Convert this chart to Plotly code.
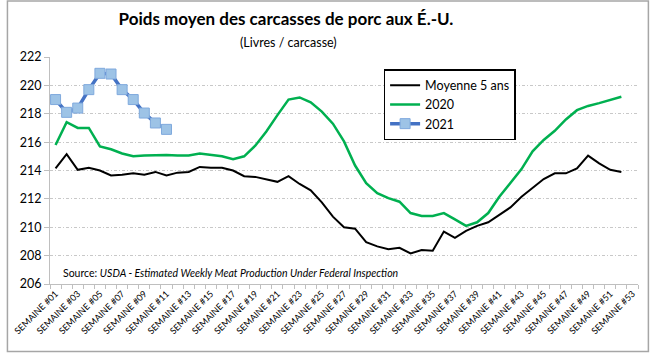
import plotly.graph_objects as go

weeks = [f"SEMAINE #{i:02d}" for i in range(1, 54)]
tick_text = [w if i % 2 == 0 else "" for i, w in enumerate(weeks)]

avg5 = [214.15, 215.15, 214.05, 214.2, 214.0, 213.65, 213.7, 213.8, 213.7, 213.9,
        213.65, 213.85, 213.9, 214.25, 214.2, 214.2, 214.0, 213.6, 213.55, 213.4,
        213.2, 213.6, 213.05, 212.6, 211.75, 210.75, 210.0, 209.9, 208.95, 208.65,
        208.45, 208.55, 208.15, 208.4, 208.35, 209.7, 209.25, 209.75, 210.1, 210.35,
        210.9, 211.4, 212.15, 212.8, 213.4, 213.8, 213.8, 214.15, 215.05, 214.5,
        214.05, 213.9]
y2020 = [215.8, 217.4, 217.0, 217.0, 215.7, 215.5, 215.2, 215.0, 215.05, 215.1,
         215.1, 215.05, 215.05, 215.2, 215.1, 215.0, 214.8, 215.0, 215.75, 216.75,
         217.9, 219.0, 219.15, 218.8, 218.15, 217.3, 216.05, 214.35, 213.1, 212.4,
         212.05, 211.8, 211.0, 210.8, 210.8, 211.0, 210.55, 210.1, 210.35, 211.0,
         212.15, 213.1, 214.1, 215.35, 216.15, 216.8, 217.6, 218.25, 218.55, 218.75,
         218.95, 219.2]
y2021 = [219.0, 218.1, 218.4, 219.7, 220.85, 220.8, 219.7, 219.0, 218.05, 217.35, 216.9]

FONT = "Lato"
L, R, T, B = 44, 12, 57, 69
W, H = 650, 353
pw, ph = W - L - R, H - T - B

fig = go.Figure()
fig.add_trace(go.Scatter(x=weeks[:len(avg5)], y=avg5, mode="lines", name="Moyenne 5 ans",
                         legendgroup="a", line=dict(color="#000000", width=2)))
fig.add_trace(go.Scatter(x=weeks[:len(y2020)], y=y2020, mode="lines", name="2020",
                         legendgroup="b", line=dict(color="#00b050", width=2.5)))
fig.add_trace(go.Scatter(x=weeks[:len(y2021)], y=y2021, mode="lines+markers", name="2021",
                         legendgroup="c", line=dict(color="#4472c4", width=3.5),
                         marker=dict(symbol="square", size=10, color="#9dc3e6",
                                     line=dict(color="#7fa9dd", width=1))))

fig.update_layout(
    width=W, height=H,
    margin=dict(l=L, r=R, t=T, b=B),
    paper_bgcolor="white", plot_bgcolor="white",
    font=dict(family=FONT, color="#000000"),
    title=dict(text="<b>Poids moyen des carcasses de porc aux É.-U.</b>",
               x=286 / W, xref="container", xanchor="center",
               y=1 - 19 / H, yref="container", yanchor="middle",
               font=dict(size=17, family=FONT, color="#000000")),
    showlegend=True,
    legend=dict(x=(381 - L) / pw, xanchor="left", y=(H - B - 69) / ph, yanchor="top",
                bgcolor="white", bordercolor="#000000", borderwidth=1.5,
                font=dict(size=12.5, family=FONT), tracegroupgap=3,
                traceorder="normal"),
    xaxis=dict(type="category", categoryorder="array", categoryarray=weeks,
               range=[-0.5, len(weeks) - 0.5],
               tickmode="array", tickvals=weeks, ticktext=tick_text,
               tickson="boundaries", ticks="outside", ticklen=4, tickcolor="#bfbfbf",
               tickangle=-45, tickfont=dict(size=9, family=FONT),
               showline=True, linecolor="#bfbfbf", linewidth=1,
               showgrid=False, zeroline=False),
    yaxis=dict(range=[206, 222], dtick=2, tick0=206,
               ticks="outside", ticklen=5, tickcolor="#bfbfbf",
               tickfont=dict(size=12.5, family=FONT),
               showline=True, linecolor="#bfbfbf", linewidth=1,
               showgrid=True, gridcolor="#c8c8c8", gridwidth=1,
               griddash="3px,2px,1px,2px", zeroline=False),
)

fig.add_annotation(text="(Livres / carcasse)", xref="paper", yref="paper",
                   x=(285 - L) / pw, y=(H - B - 43) / ph, xanchor="center", yanchor="middle",
                   showarrow=False, font=dict(size=12.5, family=FONT))
fig.add_annotation(text="Source: <i>USDA - Estimated Weekly Meat Production Under Federal Inspection</i>",
                   xref="paper", yref="paper",
                   x=(55 - L) / pw, y=(H - B - 273) / ph, xanchor="left", yanchor="middle",
                   showarrow=False, font=dict(size=10.5, family=FONT))

# outer chart border
fig.add_shape(type="rect", xref="paper", yref="paper",
              x0=(1 - L) / pw, x1=(W - 1.5 - L) / pw,
              y0=-(H - 1.5 - (H - B)) / ph, y1=(H - B - 1) / ph,
              line=dict(color="#a6a6a6", width=1.5), fillcolor="rgba(0,0,0,0)", layer="below")

fig.write_html("out.html")
